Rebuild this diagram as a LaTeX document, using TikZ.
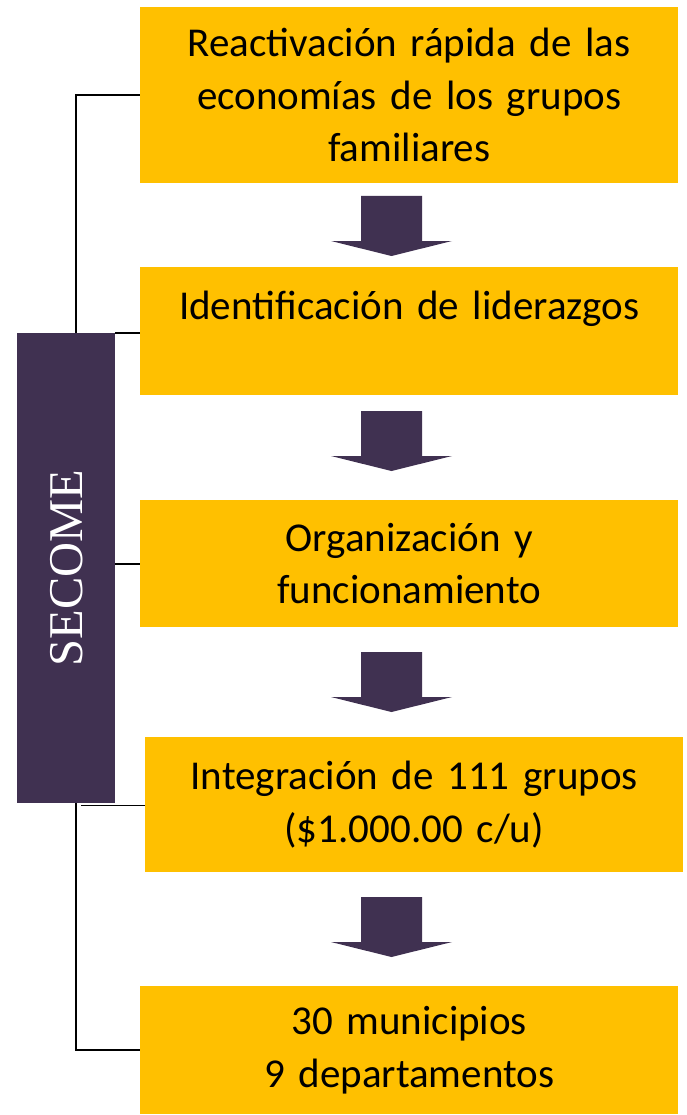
\documentclass[tikz,border=0pt]{standalone}
\usepackage{fontspec}
\setmainfont{Carlito}
\newfontfamily\secomefont{Liberation Serif}

\definecolor{amarillo}{HTML}{FFC000}
\definecolor{morado}{HTML}{403151}

\begin{document}
\begin{tikzpicture}[
        x=1pt,
        y=-1pt,
        caja/.style={
            rectangle,
            fill=amarillo,
            anchor=north west,
            minimum width=538pt,
            text width=530pt,
            align=center,
            inner sep=0pt,
            font=\fontsize{41}{52.5}\selectfont,
        },
        lateral/.style={
            rectangle,
            fill=morado,
            anchor=north west,
            minimum width=98pt,
            minimum height=470pt,
            inner sep=0pt,
        },
        flecha/.style={
            fill=morado,
        },
        linea/.style={
            draw=black,
            line width=1.6pt,
        },
    ]
        \useasboundingbox (0,0) rectangle (687,1115);

        \node [caja, minimum height=176pt] (r1) at (140,7)
            {Reactivación rápida de las\\ economías de los grupos\\ familiares};
        \node [caja, minimum height=128pt] (r2) at (140,267)
            {Identificación de liderazgos\\ \mbox{}};
        \node [caja, minimum height=127pt] (r3) at (140,500)
            {Organización y\\ funcionamiento};
        \node [caja, minimum height=135pt] (r4) at (145,737)
            {Integración de 111 grupos\\ (\$1.000.00 c/u)};
        \node [caja, minimum height=128pt] (r5) at (140,986)
            {30 municipios\\ 9 departamentos};

        \node [lateral] (secome) at (17,333) {};
        \node [text=white, rotate=90, font=\secomefont\fontsize{48.5}{50}\selectfont]
            (secometxt) at (secome.center) {SECOME};

        % flechas entre cajas
        \foreach \y in {196,411,652,897} {
            \fill [flecha] (361,\y) -- ++(61,0) -- ++(0,45) -- ++(30,0)
                -- ++(-60.5,15) -- ++(-60.5,-15) -- ++(30,0) -- cycle;
        }

        % conexiones
        \draw [linea] ([xshift=10pt]secome.north) |- (r1.west);
        \draw [linea] (secome.north east) -- (secome.north east -| r2.west);
        \draw [linea] (r3.west -| secome.east) -- (r3.west);
        \draw [linea] ([xshift=15pt,yshift=-2pt]secome.south) -- ([yshift=-2pt]secome.south -| r4.west);
        \draw [linea] ([xshift=10pt]secome.south) |- (r5.west);
\end{tikzpicture}
\end{document}
